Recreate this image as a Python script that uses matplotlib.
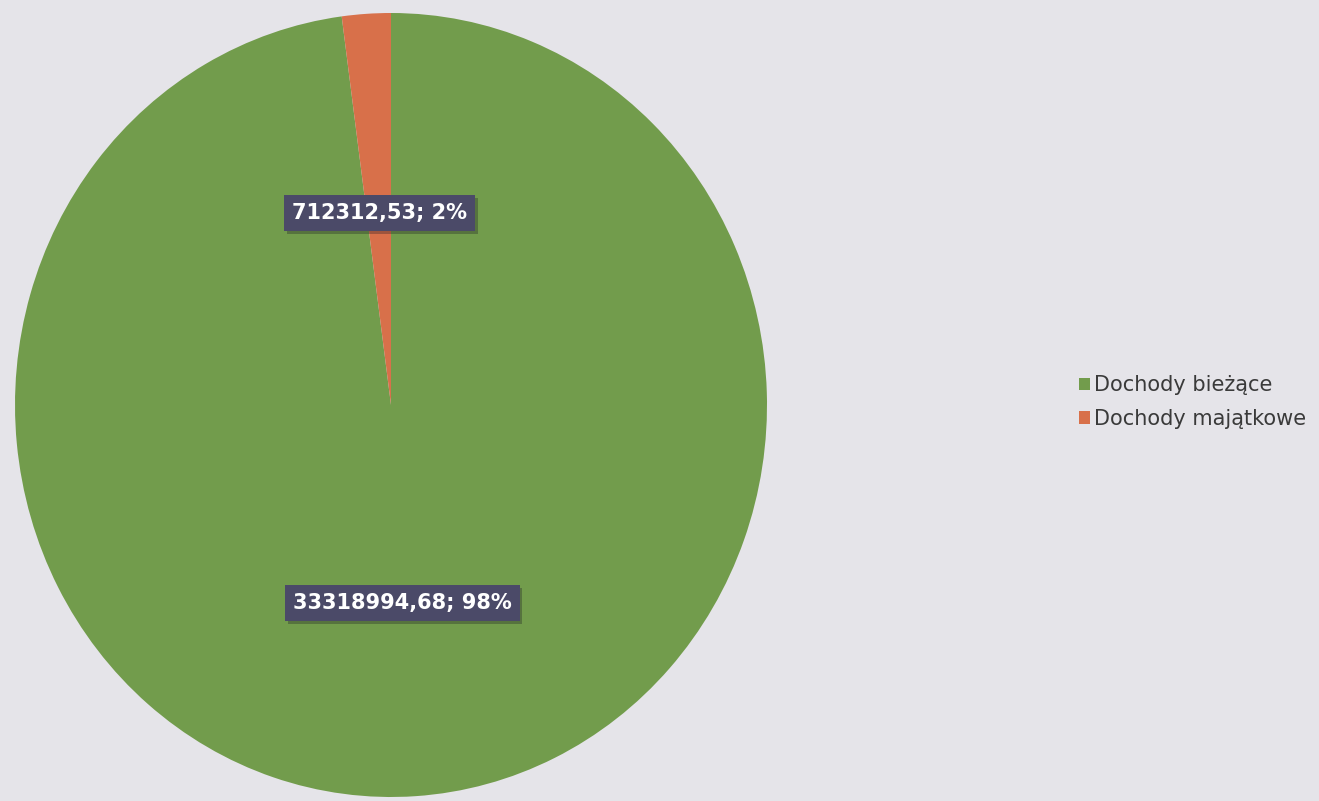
import matplotlib.pyplot as plt
import matplotlib.patheffects as pe

# Dane
kategorie = ['Dochody bieżące', 'Dochody majątkowe']
wartosci = [33318994.68, 712312.53]
etykiety = ['33318994,68; 98%', '712312,53; 2%']
kolory = ['#729c4c', '#d8704a']

tlo = '#e5e4e9'

fig = plt.figure(figsize=(13.19, 8.01), dpi=100, facecolor=tlo)

# Oś dla koła (lekko eliptyczne jak w skanie)
W, H = 1319, 801
left, right, top, bottom = 15, 767, 13, 797
ax = fig.add_axes([left / W, 1 - bottom / H, (right - left) / W, (bottom - top) / H])
ax.set_facecolor(tlo)

wedges, _ = ax.pie(wartosci, colors=kolory, startangle=90, counterclock=False,
                   radius=1, wedgeprops=dict(linewidth=0))
ax.set_aspect('auto')
ax.set_xlim(-1, 1)
ax.set_ylim(-1, 1)
ax.axis('off')

# Etykiety danych
pozycje = [(0.03, -0.505), (-0.03, 0.49)]
for tekst, (x, y) in zip(etykiety, pozycje):
    ax.text(x, y, tekst, ha='center', va='center', fontsize=15, fontweight='bold',
            color='white',
            bbox=dict(boxstyle='square,pad=0.38', facecolor='#4b4a68', edgecolor='none',
                      path_effects=[pe.withSimplePatchShadow(offset=(2, -2), alpha=0.3)]))

# Legenda
fig.legend(wedges, kategorie, loc='center left',
           bbox_to_anchor=(1060 / W, 1 - 402 / H), frameon=False,
           fontsize=15, handlelength=0.55, handleheight=0.55,
           handletextpad=0.2, labelspacing=0.65, labelcolor='#3a3a3a')

plt.savefig('out.png', dpi=100, facecolor=tlo)
